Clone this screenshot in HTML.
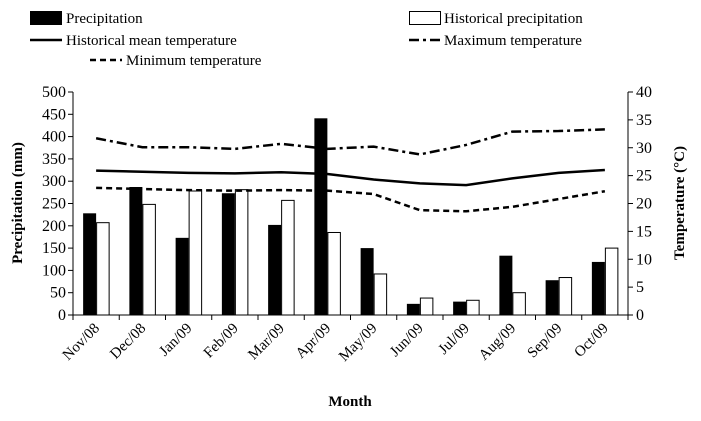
<!DOCTYPE html>
<html><head><meta charset="utf-8"><style>
body{margin:0;background:#fff;}
svg{font-family:"Liberation Serif",serif;}
</style></head><body>
<svg id="c" width="701" height="416">
<g>
 <rect x="30" y="11" width="32" height="14" fill="#000"/>
 <text x="66" y="23" font-size="15">Precipitation</text>
 <rect x="409.5" y="11.5" width="31" height="13" fill="#fff" stroke="#000"/>
 <text x="444" y="23" font-size="15">Historical precipitation</text>
 <line x1="30" y1="40" x2="62" y2="40" stroke="#000" stroke-width="2.5"/>
 <text x="66" y="45" font-size="15">Historical mean temperature</text>
 <line x1="409" y1="40" x2="441" y2="40" stroke="#000" stroke-width="2.5" stroke-dasharray="10,4,3,4"/>
 <text x="444" y="45" font-size="15">Maximum temperature</text>
 <line x1="90" y1="60" x2="122" y2="60" stroke="#000" stroke-width="2.5" stroke-dasharray="6,4"/>
 <text x="126" y="65" font-size="15">Minimum temperature</text>
</g>
<g id="plot"></g>
<text x="0" y="0" font-size="15" font-weight="bold" text-anchor="middle" transform="translate(22,203) rotate(-90)">Precipitation (mm)</text>
<text x="0" y="0" font-size="15" font-weight="bold" text-anchor="middle" transform="translate(684,203) rotate(-90)">Temperature (°C)</text>
<text x="350" y="406" font-size="15" font-weight="bold" text-anchor="middle">Month</text>
</svg>
<script>
const categories=["Nov/08","Dec/08","Jan/09","Feb/09","Mar/09","Apr/09","May/09","Jun/09","Jul/09","Aug/09","Sep/09","Oct/09"];
const precipitation=[228,287,173,273,202,441,150,25,30,133,78,119];
const historicalPrecipitation=[207,248,278,281,257,185,92,38,33,50,84,150];
const meanTemp=[25.9,25.7,25.5,25.4,25.6,25.3,24.3,23.6,23.3,24.5,25.5,26.0];
const maxTemp=[31.7,30.1,30.1,29.8,30.7,29.8,30.2,28.8,30.5,32.9,33.0,33.3];
const minTemp=[22.8,22.6,22.4,22.3,22.4,22.3,21.7,18.8,18.6,19.4,20.8,22.2];
const leftTicks=[0,50,100,150,200,250,300,350,400,450,500];
const rightTicks=[0,5,10,15,20,25,30,35,40];
const NS="http://www.w3.org/2000/svg";
const X0=73,X1=628,Y0=315,Y1=92;
const bw=(X1-X0)/categories.length;
const yL=v=>Y0-(v/500)*(Y0-Y1);
const yR=v=>Y0-(v/40)*(Y0-Y1);
const xc=i=>X0+bw*(i+0.5);
const g=document.getElementById('plot');
function mk(t,a){const e=document.createElementNS(NS,t);for(const k in a)e.setAttribute(k,a[k]);g.appendChild(e);return e;}
let e=mk('line',{x1:X0,y1:Y1,x2:X0,y2:Y0,stroke:'#000'});


e=mk('line',{x1:X1,y1:Y1,x2:X1,y2:Y0,stroke:'#000'});


e=mk('line',{x1:X0,y1:Y0,x2:X1,y2:Y0,stroke:'#000'});


leftTicks.forEach(v=>{mk('line',{x1:X0-5,y1:yL(v),x2:X0,y2:yL(v),stroke:'#000'});
 const t=mk('text',{x:X0-7,y:yL(v)+5,'font-size':16,'text-anchor':'end'});t.textContent=v;
 
 });
rightTicks.forEach(v=>{mk('line',{x1:X1,y1:yR(v),x2:X1+5,y2:yR(v),stroke:'#000'});
 const t=mk('text',{x:X1+8,y:yR(v)+5,'font-size':16});t.textContent=v;
 
 });
for(let i=0;i<=categories.length;i++)mk('line',{x1:X0+bw*i,y1:Y0,x2:X0+bw*i,y2:Y0+5,stroke:'#000'});
categories.forEach((c,i)=>{const x=xc(i);
 let b=mk('rect',{x:x-13,y:yL(precipitation[i]),width:13,height:Y0-yL(precipitation[i]),fill:'#000'});
 
 
 b=mk('rect',{x:x+0.5,y:yL(historicalPrecipitation[i]),width:12.5,height:Y0-yL(historicalPrecipitation[i]),fill:'#fff',stroke:'#000'});
 
 
 const t=mk('text',{x:0,y:0,'font-size':15,'text-anchor':'end',transform:`translate(${x+4},${Y0+14}) rotate(-45)`});t.textContent=c;
 
 });
function line(arr,dash,name){const p=mk('polyline',{points:arr.map((v,i)=>xc(i)+','+yR(v)).join(' '),fill:'none',stroke:'#000','stroke-width':2.5,'stroke-dasharray':dash});
 
 }
line(meanTemp,'none','line-mean-temperature');
line(maxTemp,'10,4,3,4','line-maximum-temperature');
line(minTemp,'6,4','line-minimum-temperature');
</script>
</body></html>
